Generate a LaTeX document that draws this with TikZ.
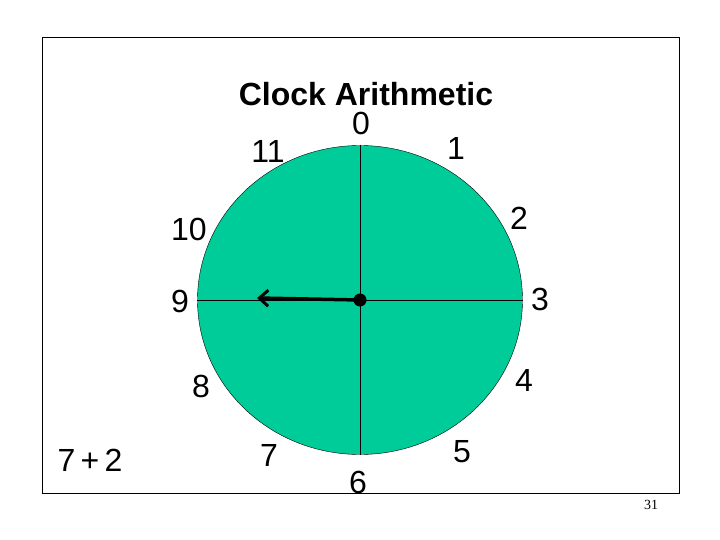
\documentclass[tikz,border=0pt]{standalone}
\usepackage{fontspec}
\setmainfont{Liberation Sans}
\newfontfamily\pagenofont{Liberation Serif}
\usepackage{tikz}
\usetikzlibrary{arrows.meta,shapes.geometric}
\definecolor{dialgreen}{RGB}{0,204,153}

\begin{document}
\begin{tikzpicture}[x=1pt,y=-1pt,
		numlabel/.style={black, font=\fontsize{32}{36}\selectfont, inner sep=0pt},
		spoke/.style={draw=black, thin, solid}]
		\useasboundingbox (0,0) rectangle (720,540);
		\draw[draw=black, thin, solid] (42,37) rectangle (679,493);
		\node[ellipse, fill=dialgreen, draw=black, thin, minimum width=325pt, minimum height=309pt, inner sep=0pt] (dial) at (360,300) {};
		\draw[spoke] (dial.north) -- (dial.south);
		\draw[spoke] (dial.west) -- (dial.east);
		\coordinate (hub) at (360,300);
		\coordinate (tip) at (257,298);
		\draw[draw=black, line width=3.5pt, -{Straight Barb[length=9pt,width=16pt,line width=3pt]}] (hub) -- (tip);
		\fill[black] (hub) circle (6.5);
		\node[black, font=\fontsize{32}{36}\selectfont\bfseries, inner sep=0pt] (title) at (366,94) {Clock Arithmetic};
		\node[numlabel] (n0) at (361,123) {0};
		\node[numlabel] (n1) at (456,148) {1};
		\node[numlabel] (n2) at (519,218) {2};
		\node[numlabel] (n3) at (540,299) {3};
		\node[numlabel] (n4) at (524,380) {4};
		\node[numlabel] (n5) at (462,452) {5};
		\node[numlabel] (n6) at (358,482) {6};
		\node[numlabel] (n7) at (269,455) {7};
		\node[numlabel] (n8) at (201,386) {8};
		\node[numlabel] (n9) at (180,301) {9};
		\node[numlabel] (n10) at (189,229) {10};
		\node[numlabel] (n11) at (268,151) {11};
		\node[numlabel] (sum) at (90,460) {7\,+\,2};
		\node[black, font=\pagenofont\fontsize{14}{16}\selectfont, inner sep=0pt] (pageno) at (651,505) {31};
	\end{tikzpicture}
\end{document}
